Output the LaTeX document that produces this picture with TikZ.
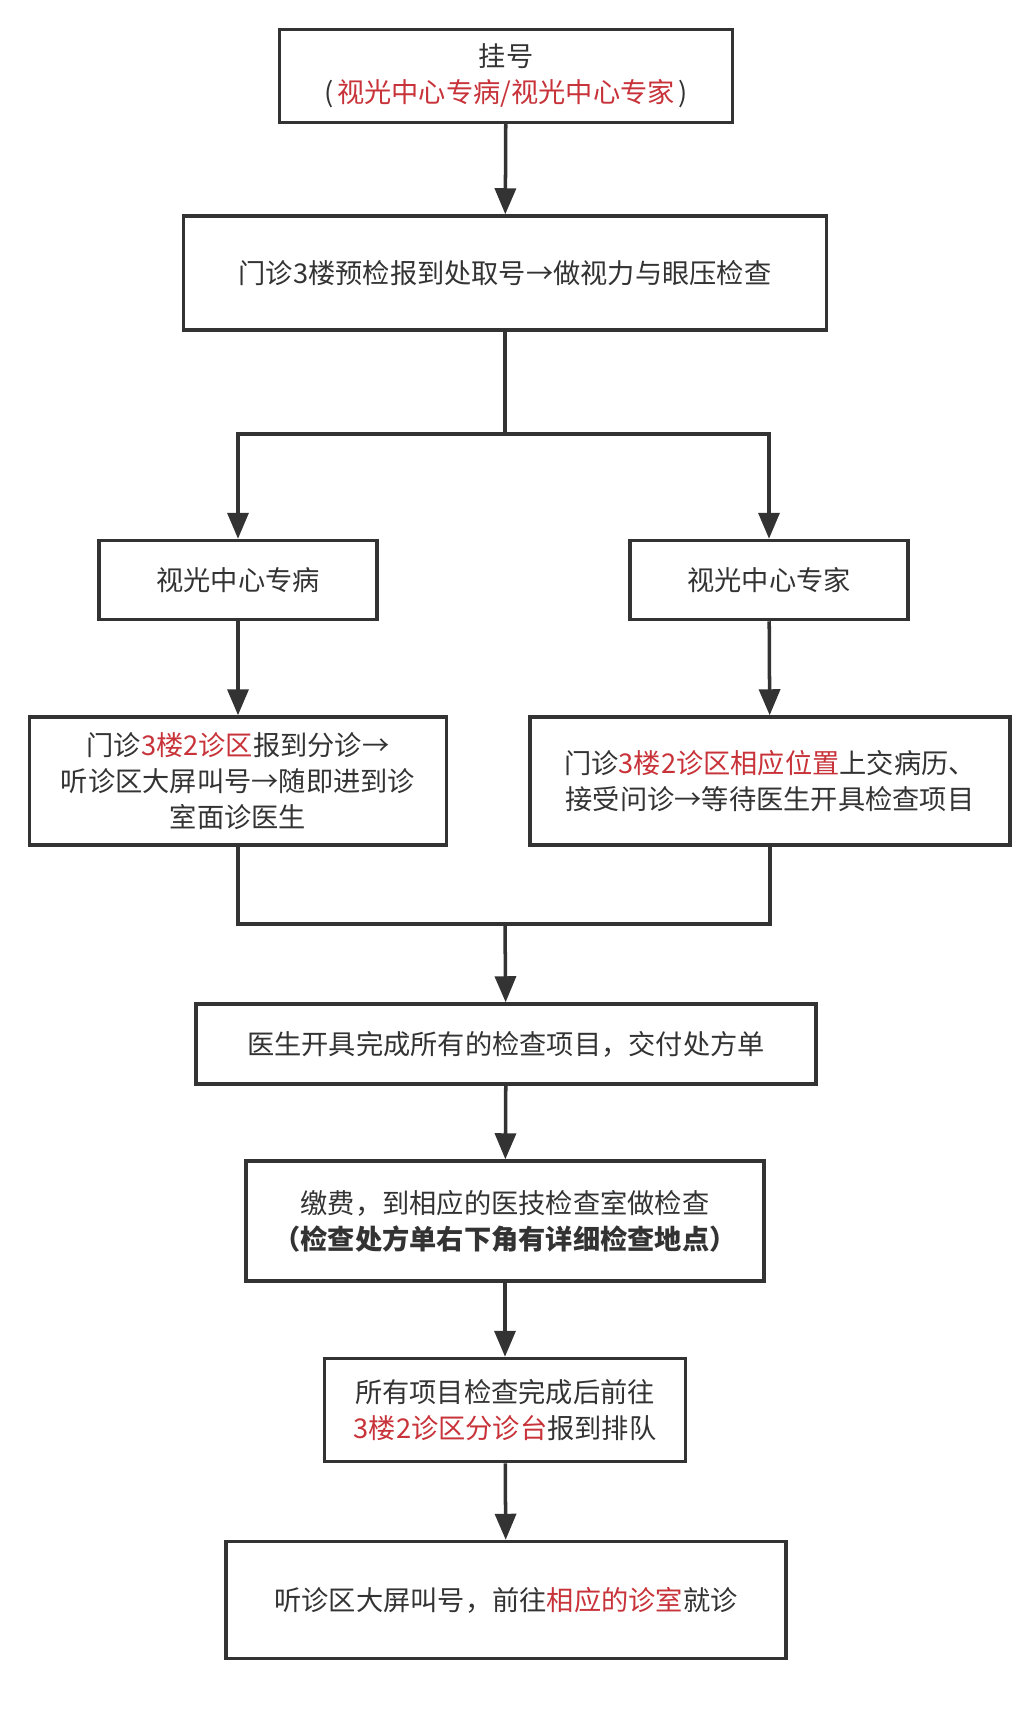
\documentclass[tikz,border=0pt]{standalone}
\usepackage{fontspec}
\setmainfont{Noto Sans CJK SC}
\usepackage{tikz}
\usetikzlibrary{positioning,arrows.meta}
\definecolor{ink}{HTML}{333333}
\definecolor{hlred}{HTML}{C8333A}
\newcommand{\hl}[1]{\textcolor{hlred}{#1}}

\begin{document}
\begin{tikzpicture}[x=0.02cm,y=-0.02cm,
    stepbox/.style={draw=ink,line width=2pt,fill=white,align=center,text=ink,
                    inner sep=0pt,font=\fontsize{15.5pt}{20.5pt}\selectfont},
    link/.style={draw=ink,line width=2pt},
    flow/.style={link,-{Triangle[length=0.52cm,width=0.42cm]}}]
  \useasboundingbox[fill=white] (0,0) rectangle (1025,1709);

  \node[stepbox,minimum width=9.06cm,minimum height=1.86cm] (reg) at (506,76)
        {挂号\\(\kern2pt\hl{视光中心专病/视光中心专家}\kern2pt)};
  \node[stepbox,minimum width=12.86cm,minimum height=2.28cm] (precheck) at (505,273)
        {门诊3楼预检报到处取号→做视力与眼压检查};
  \node[stepbox,minimum width=5.56cm,minimum height=1.58cm] (dept) at (238,580)
        {视光中心专病};
  \node[stepbox,minimum width=5.56cm,minimum height=1.58cm] (expert) at (769,580)
        {视光中心专家};
  \node[stepbox,minimum width=8.34cm,minimum height=2.56cm] (deptdesk) at (238,781)
        {门诊\hl{3楼2诊区}报到分诊→\\听诊区大屏叫号→随即进到诊\\室面诊医生};
  \node[stepbox,minimum width=9.6cm,minimum height=2.56cm] (expertdesk) at (770,781)
        {门诊\hl{3楼2诊区相应位置}上交病历、\\接受问诊→等待医生开具检查项目};
  \node[stepbox,minimum width=12.4cm,minimum height=1.6cm] (orders) at (506,1044)
        {医生开具完成所有的检查项目，交付处方单};
  \node[stepbox,minimum width=10.36cm,minimum height=2.4cm] (payexam) at (505,1221)
        {缴费，到相应的医技检查室做检查\\\textbf{（检查处方单右下角有详细检查地点）}};
  \node[stepbox,minimum width=7.22cm,minimum height=2.06cm] (queue) at (505,1410)
        {所有项目检查完成后前往\\\hl{3楼2诊区分诊台}报到排队};
  \node[stepbox,minimum width=11.2cm,minimum height=2.34cm] (callin) at (506,1600)
        {听诊区大屏叫号，前往\hl{相应的诊室}就诊};

  % split after the pre-check
  \coordinate (split) at (505,434);
  \coordinate (merge) at (505,924);
  \draw[flow] (reg) -- (precheck);
  \draw[link] (precheck.south) -- (split);
  \draw[flow] (split) -| (dept);
  \draw[flow] (split) -| (expert);
  \draw[flow] (dept) -- (deptdesk);
  \draw[flow] (expert) -- (expertdesk);
  % join the two branches
  \draw[link] (deptdesk.south) |- (merge) -| (expertdesk.south);
  \draw[flow] (merge) -- (orders);
  \draw[flow] (orders) -- (payexam);
  \draw[flow] (payexam) -- (queue);
  \draw[flow] (queue) -- (callin);
\end{tikzpicture}
\end{document}
